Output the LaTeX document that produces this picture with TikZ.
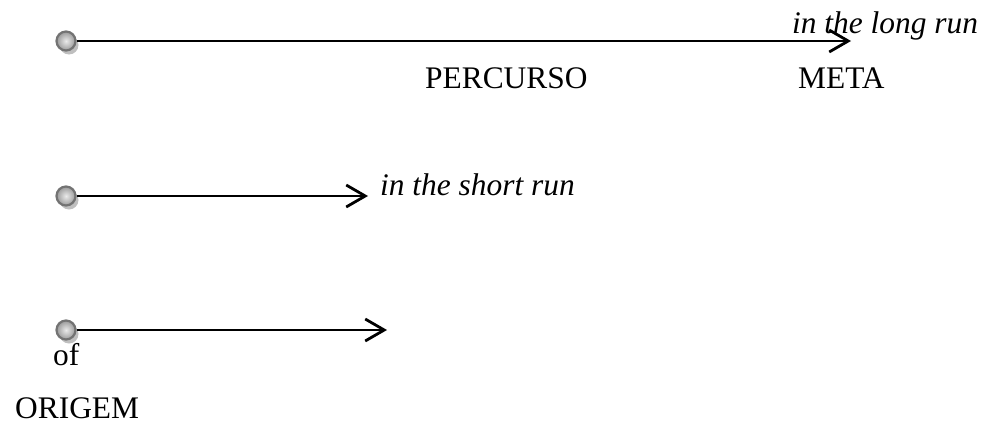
\documentclass[tikz,border=0pt]{standalone}
\usepackage{fontspec}
\setmainfont{Liberation Serif}
\usetikzlibrary{arrows.meta,shadows}
\begin{document}
\begin{tikzpicture}[x=1pt,y=-1pt,
  dot/.style={circle,minimum size=19pt,inner sep=0pt,draw=black!55,line width=2.2pt,
    inner color=black!8,outer color=black!40,
    drop shadow={shadow xshift=3pt,shadow yshift=-4pt,fill=black!25,opacity=1}},
  arr/.style={line width=2.8pt,-{Straight Barb[length=19pt,width=22pt,line width=2.8pt]}},
  lbl/.style={font=\fontsize{31.4}{33}\selectfont,inner sep=0pt,anchor=base west},
  ilbl/.style={lbl,font=\fontsize{31.4}{33}\selectfont\itshape}]
\useasboundingbox (0,0) rectangle (993,423);
\node[dot] (c1) at (66,41) {};
\node[dot] (c2) at (66,196) {};
\node[dot] (c3) at (66,330) {};
\coordinate (t1) at (851,41);
\coordinate (t2) at (368,196);
\coordinate (t3) at (387,330);
\draw[arr] (c1.east) -- (t1);
\draw[arr] (c2.east) -- (t2);
\draw[arr] (c3.east) -- (t3);
\node[ilbl] (long) at (792,33) {in the long run};
\node[lbl] (percurso) at (425,88) {PERCURSO};
\node[lbl] (meta) at (798,88) {META};
\node[ilbl] (short) at (380,195) {in the short run};
\node[lbl] (of) at (53,365) {of};
\node[lbl] (origem) at (15,418) {ORIGEM};
\end{tikzpicture}
\end{document}
